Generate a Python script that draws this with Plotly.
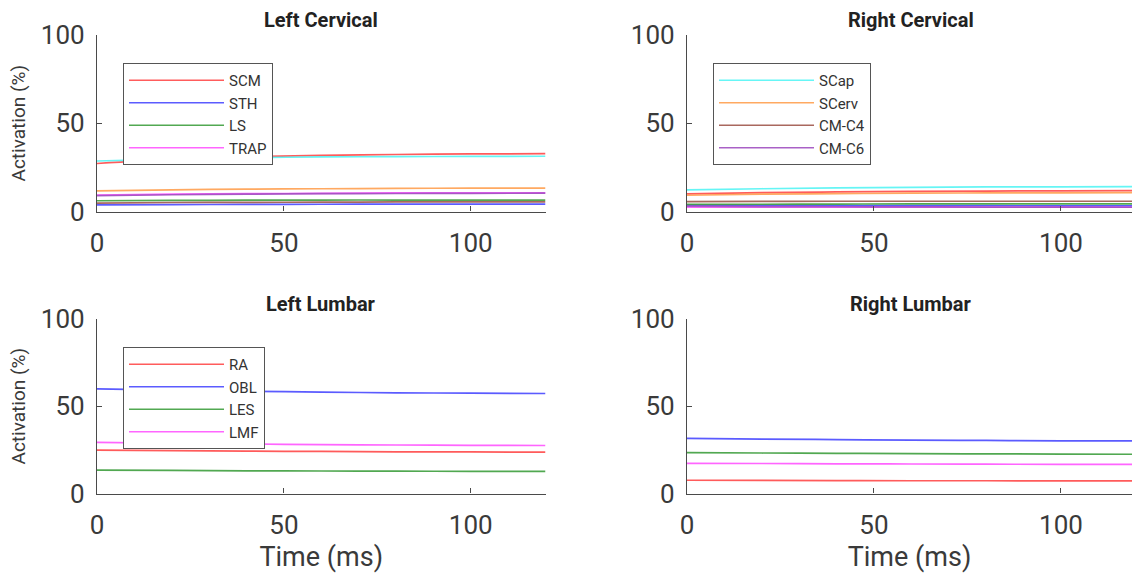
import plotly.graph_objects as go

# Sample times (ms) for every activation curve
time_ms = [0, 20, 40, 60, 80, 100, 120]

# Cervical muscle activations (%)
left_cervical = {
    "SCM":   [27.2, 29.5, 31.0, 31.8, 32.3, 32.6, 32.8],
    "STH":   [3.7, 3.9, 4.0, 4.1, 4.2, 4.2, 4.2],
    "LS":    [6.1, 6.3, 6.4, 6.5, 6.5, 6.5, 6.5],
    "TRAP":  [9.3, 9.8, 10.1, 10.3, 10.5, 10.6, 10.6],
    "SCap":  [28.6, 29.7, 30.5, 30.9, 31.1, 31.2, 31.3],
    "SCerv": [11.7, 12.3, 12.7, 12.9, 13.1, 13.2, 13.2],
    "CM-C4": [4.8, 5.1, 5.2, 5.3, 5.4, 5.4, 5.4],
    "CM-C6": [9.0, 9.5, 9.8, 10.1, 10.2, 10.3, 10.4],
}
right_cervical = {
    "SCM":   [10.0, 10.7, 11.1, 11.4, 11.6, 11.7, 11.8],
    "STH":   [3.6, 3.5, 3.4, 3.3, 3.3, 3.2, 3.2],
    "LS":    [4.0, 4.1, 4.2, 4.3, 4.3, 4.3, 4.3],
    "TRAP":  [2.4, 2.4, 2.4, 2.4, 2.4, 2.4, 2.4],
    "SCap":  [12.2, 12.9, 13.4, 13.7, 13.9, 14.0, 14.1],
    "SCerv": [9.2, 9.8, 10.1, 10.4, 10.5, 10.6, 10.7],
    "CM-C4": [5.6, 5.7, 5.8, 5.8, 5.8, 5.8, 5.8],
    "CM-C6": [3.0, 2.8, 2.7, 2.6, 2.5, 2.5, 2.4],
}

# Lumbar muscle activations (%)
left_lumbar = {
    "RA":  [24.9, 24.6, 24.3, 24.1, 23.9, 23.8, 23.7],
    "OBL": [59.9, 59.2, 58.6, 58.1, 57.7, 57.5, 57.3],
    "LES": [13.4, 13.2, 13.0, 12.9, 12.8, 12.7, 12.7],
    "LMF": [29.3, 28.8, 28.4, 28.0, 27.8, 27.6, 27.5],
}
right_lumbar = {
    "RA":  [7.6, 7.5, 7.4, 7.3, 7.3, 7.2, 7.2],
    "OBL": [31.6, 31.2, 30.9, 30.6, 30.4, 30.2, 30.1],
    "LES": [23.4, 23.2, 23.0, 22.8, 22.7, 22.6, 22.5],
    "LMF": [17.3, 17.2, 17.0, 16.9, 16.8, 16.7, 16.7],
}

muscle_colors = {
    "SCM": "#ff4a4a", "STH": "#4a4aff", "LS": "#3f9f3f", "TRAP": "#ff55ff",
    "SCap": "#55f5f5", "SCerv": "#ffa050", "CM-C4": "#a0584c", "CM-C6": "#a050c0",
    "RA": "#ff4a4a", "OBL": "#4a4aff", "LES": "#3f9f3f", "LMF": "#ff55ff",
}

# Which legend box lists each muscle
legend_of = {
    "SCM": "legend", "STH": "legend", "LS": "legend", "TRAP": "legend",
    "SCap": "legend2", "SCerv": "legend2", "CM-C4": "legend2", "CM-C6": "legend2",
    "RA": "legend3", "OBL": "legend3", "LES": "legend3", "LMF": "legend3",
}

panels = [
    ("Left Cervical", left_cervical, "x", "y"),
    ("Right Cervical", right_cervical, "x2", "y2"),
    ("Left Lumbar", left_lumbar, "x3", "y3"),
    ("Right Lumbar", right_lumbar, "x4", "y4"),
]
panel_legend = {"Left Cervical": "legend", "Right Cervical": "legend2",
                "Left Lumbar": "legend3", "Right Lumbar": None}

fig = go.Figure()
for title, data, xa, ya in panels:
    for name in data:
        show = legend_of[name] == panel_legend[title]
        fig.add_trace(go.Scatter(
            x=time_ms, y=data[name], name=name, mode="lines",
            line=dict(color=muscle_colors[name], width=1.7, shape="spline"),
            opacity=0.9, xaxis=xa, yaxis=ya,
            showlegend=show, legend=legend_of[name],
        ))

W, H = 1132, 582
ax_color = "#4a4a4a"
tick_font = dict(family="Roboto", size=26, color="#3a3a3a")

def px_x(p):
    return p / W

def px_y(p):
    return 1 - p / H

left_dom = [px_x(97), px_x(545.5)]
right_dom = [px_x(687), 1.0]
top_dom = [px_y(211.5), px_y(35)]
bot_dom = [px_y(493.5), px_y(319)]

def xaxis(dom, anchor, rng, title=None):
    d = dict(domain=dom, anchor=anchor, range=rng, tickvals=[0, 50, 100],
             ticks="inside", ticklen=5, tickwidth=1.2, tickcolor=ax_color,
             showline=True, linecolor=ax_color, linewidth=1.3,
             showgrid=False, zeroline=False, tickfont=tick_font,
             ticklabelstandoff=8, automargin=False, fixedrange=True)
    if title:
        d["title"] = dict(text=title, font=dict(family="Roboto", size=27, color="#3a3a3a"), standoff=8)
    return d

def yaxis(dom, anchor, title=None):
    d = dict(domain=dom, anchor=anchor, range=[0, 100], tickvals=[0, 50, 100],
             ticks="inside", ticklen=5, tickwidth=1.2, tickcolor=ax_color,
             showline=True, linecolor=ax_color, linewidth=1.3,
             showgrid=False, zeroline=False, tickfont=tick_font,
             ticklabelstandoff=6, automargin=False, fixedrange=True)
    if title:
        d["title"] = dict(text=title, font=dict(family="Roboto", size=19, color="#3a3a3a"), standoff=10)
    return d

legend_style = dict(
    bgcolor="white", bordercolor="#555555", borderwidth=1,
    font=dict(family="Roboto", size=15, color="#333333"),
    itemwidth=95, xanchor="left", yanchor="top", tracegroupgap=0,
    itemclick=False, itemdoubleclick=False,
)

fig.update_layout(
    width=W, height=H,
    margin=dict(l=0, r=0, t=0, b=0),
    paper_bgcolor="white", plot_bgcolor="white",
    font=dict(family="Roboto", color="#333333"),
    xaxis=xaxis(left_dom, "y", [0, 120]),
    yaxis=yaxis(top_dom, "x", "Activation (%)"),
    xaxis2=xaxis(right_dom, "y2", [0, 119.0]),
    yaxis2=yaxis(top_dom, "x2"),
    xaxis3=xaxis(left_dom, "y3", [0, 120], "Time (ms)"),
    yaxis3=yaxis(bot_dom, "x3", "Activation (%)"),
    xaxis4=xaxis(right_dom, "y4", [0, 119.0], "Time (ms)"),
    yaxis4=yaxis(bot_dom, "x4"),
    legend=dict(legend_style, x=px_x(123), y=px_y(63)),
    legend2=dict(legend_style, x=px_x(713), y=px_y(63)),
    legend3=dict(legend_style, x=px_x(123), y=px_y(347)),
    showlegend=True,
)

# Panel titles
title_pos = [
    ("Left Cervical", 321, 20),
    ("Right Cervical", 911, 20),
    ("Left Lumbar", 321, 304),
    ("Right Lumbar", 911, 304),
]
for text, cx, cy in title_pos:
    fig.add_annotation(
        text="<b>%s</b>" % text, x=px_x(cx), y=px_y(cy), xref="paper", yref="paper",
        showarrow=False, xanchor="center", yanchor="middle",
        font=dict(family="Roboto", size=20, color="#222222"),
    )

fig.write_html("out.html")
